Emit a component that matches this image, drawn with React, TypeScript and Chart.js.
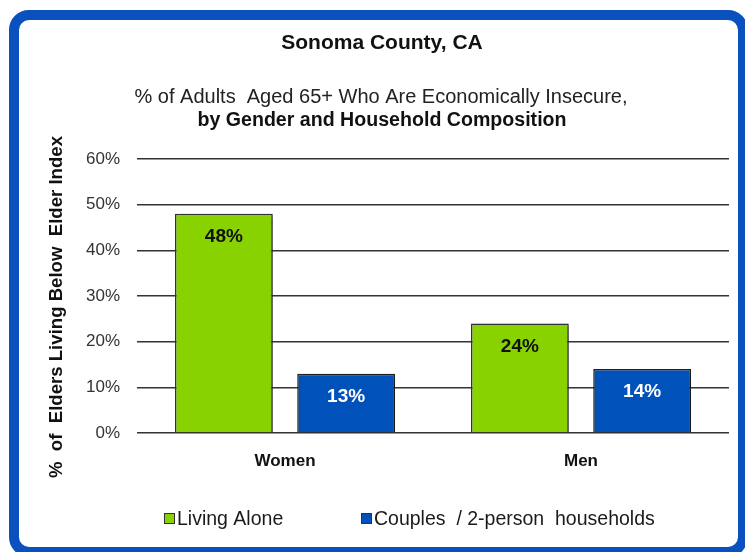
import React, { useEffect, useRef } from "react";
import { Chart, registerables } from "chart.js";

Chart.register(...registerables);

const categories = ["Women", "Men"];
const livingAlone = [48, 24];
const couples = [13, 14];
const seriesNames = ["Living Alone", "Couples  / 2-person  households"];
const seriesColors = ["#88D200", "#0052BA"];
const labelColors = ["#111111", "#FFFFFF"];
const titleText = "Sonoma County, CA";
const subtitleLine1 = "% of Adults  Aged 65+ Who Are Economically Insecure,";
const subtitleLine2 = "by Gender and Household Composition";
const yAxisTitle = "%  of  Elders Living Below  Elder Index";
const yMax = 60;
const yStep = 10;

const FONT = "'Liberation Sans', Arial, sans-serif";

const textPlugin = {
  id: "texts",
  afterDraw(chart: any) {
    const ctx = chart.ctx;
    ctx.save();
    ctx.fillStyle = "#111";
    ctx.textAlign = "center";
    ctx.textBaseline = "middle";
    ctx.font = `bold 21px ${FONT}`;
    ctx.fillText(titleText, 382, 43);
    ctx.font = `20px ${FONT}`;
    ctx.fillStyle = "#222";
    ctx.fillText(subtitleLine1, 381, 97);
    ctx.font = `bold 19.6px ${FONT}`;
    ctx.fillStyle = "#111";
    ctx.fillText(subtitleLine2, 382, 121);

    // y axis title
    ctx.save();
    ctx.translate(57, 307);
    ctx.rotate(-Math.PI / 2);
    ctx.font = `bold 18.6px ${FONT}`;
    ctx.fillStyle = "#111";
    ctx.fillText(yAxisTitle, 0, 0);
    ctx.restore();

    // legend
    ctx.font = `19.5px ${FONT}`;
    ctx.textAlign = "left";
    const xs = [164, 361];
    seriesNames.forEach((name, i) => {
      const x = xs[i];
      const y = 519;
      ctx.fillStyle = seriesColors[i];
      ctx.fillRect(x, y - 6, 11, 11);
      ctx.strokeStyle = "#333";
      ctx.lineWidth = 1;
      ctx.strokeRect(x + 0.5, y - 5.5, 10, 10);
      ctx.fillStyle = "#1a1a1a";
      ctx.fillText(name, x + 13, y + 1);
    });
    ctx.restore();
  },
};

const shadowPlugin = {
  id: "barShadow",
  beforeDatasetsDraw(chart: any) {
    const ctx = chart.ctx;
    ctx.save();
    ctx.shadowColor = "rgba(0,0,0,0.35)";
    ctx.shadowBlur = 4;
    ctx.shadowOffsetX = 3;
    ctx.shadowOffsetY = 2;
  },
  afterDatasetsDraw(chart: any) {
    chart.ctx.restore();
  },
};

const valueLabelPlugin = {
  id: "valueLabels",
  afterDatasetsDraw(chart: any) {
    const ctx = chart.ctx;
    ctx.save();
    ctx.font = `bold 19px ${FONT}`;
    ctx.textAlign = "center";
    ctx.textBaseline = "middle";
    chart.data.datasets.forEach((ds: any, di: number) => {
      const meta = chart.getDatasetMeta(di);
      meta.data.forEach((bar: any, i: number) => {
        ctx.fillStyle = labelColors[di];
        ctx.fillText(`${ds.data[i]}%`, bar.x, bar.y + 23);
      });
    });
    ctx.restore();
  },
};

export default function App() {
  const canvasRef = useRef<HTMLCanvasElement | null>(null);

  useEffect(() => {
    if (!canvasRef.current) return;
    const chart = new Chart(canvasRef.current, {
      type: "bar",
      data: {
        labels: categories,
        datasets: [
          {
            label: seriesNames[0],
            data: livingAlone,
            backgroundColor: seriesColors[0],
            borderColor: "#333",
            borderWidth: 1.5,
            categoryPercentage: 0.826,
            barPercentage: 0.8,
          },
          {
            label: seriesNames[1],
            data: couples,
            backgroundColor: seriesColors[1],
            borderColor: "#222",
            borderWidth: 1.5,
            categoryPercentage: 0.826,
            barPercentage: 0.8,
          },
        ],
      },
      options: {
        animation: false,
        responsive: false,
        maintainAspectRatio: false,
        layout: { padding: { left: 47, right: 16, top: 159, bottom: 59 } },
        plugins: {
          legend: { display: false },
          tooltip: { enabled: false },
          title: { display: false },
        },
        scales: {
          x: {
            grid: { display: false, drawTicks: false },
            border: { display: false },
            ticks: {
              padding: 18,
              color: "#111",
              font: { family: FONT, size: 17, weight: "bold" },
            },
            afterFit(scale: any) {
              scale.height = 60;
            },
          },
          y: {
            min: 0,
            max: yMax,
            grid: { color: "#333", lineWidth: 1.5, drawTicks: false },
            border: { display: false },
            ticks: {
              stepSize: yStep,
              padding: 17,
              color: "#333",
              font: { family: FONT, size: 17 },
              callback: (v: any) => `${v}%`,
            },
            afterFit(scale: any) {
              scale.width = 90;
            },
          },
        },
      },
      plugins: [shadowPlugin, valueLabelPlugin, textPlugin],
    });
    return () => chart.destroy();
  }, []);

  return (
    <div
      style={{
        position: "absolute",
        left: 0,
        top: 0,
        width: 745,
        height: 552,
        overflow: "hidden",
        background: "#fff",
      }}
    >
      <div
        style={{
          position: "absolute",
          left: 9,
          top: 10,
          width: 719,
          height: 527,
          border: "10px solid #0A50BE",
          borderRadius: 20,
          background: "#fff",
        }}
      />
      <canvas
        ref={canvasRef}
        width={745}
        height={552}
        style={{ position: "absolute", left: 0, top: 0, width: 745, height: 552 }}
      />
    </div>
  );
}
